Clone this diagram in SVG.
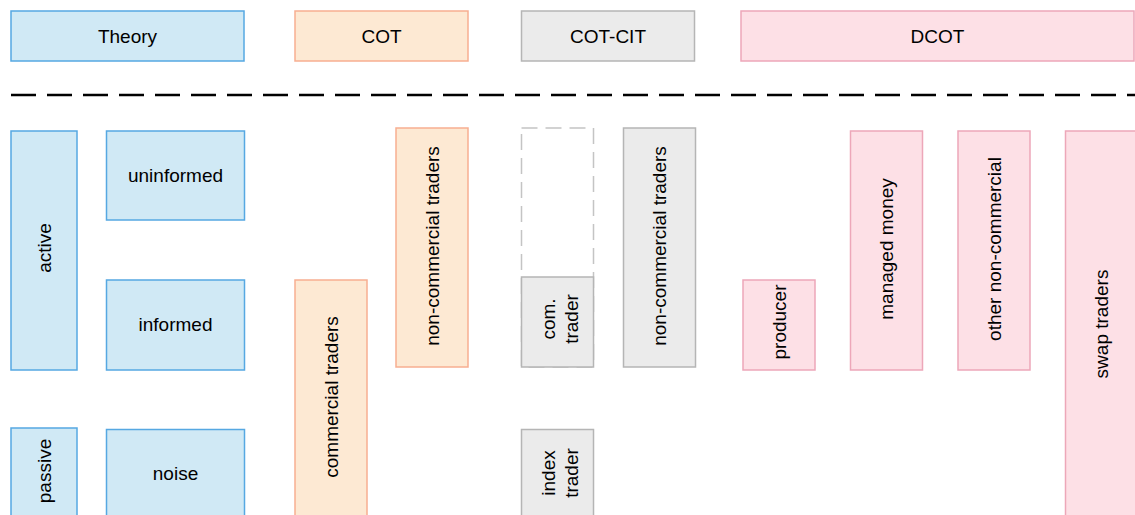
<svg xmlns="http://www.w3.org/2000/svg" width="1135" height="515" viewBox="0 0 1135 515">
<style>
text{font-family:"Liberation Sans",Arial,sans-serif;font-size:19px;fill:#000;text-anchor:middle}
.th{fill:#d0e9f5;stroke:#56a8e2;stroke-width:1.5}
.cot{fill:#fde9d3;stroke:#f7ae91;stroke-width:1.5}
.cit{fill:#ebebeb;stroke:#b5b5b5;stroke-width:1.5}
.dc{fill:#fde0e6;stroke:#eda7b9;stroke-width:1.5}
.dash{fill:none;stroke:#c4c4c4;stroke-width:1.5;stroke-dasharray:16 8}
</style>
<rect width="1135" height="515" fill="#ffffff"/>
<g id="connectors">
<line x1="11" y1="95" x2="1135" y2="95" stroke="#000" stroke-width="2.7" stroke-dasharray="25 11"/>
</g>
<g id="theory"><rect class="th" x="11" y="11" width="233" height="50"/><text x="127.5" y="42.5">Theory</text></g>
<g id="cot"><rect class="cot" x="295" y="11" width="173" height="50"/><text x="381.5" y="42.5">COT</text></g>
<g id="cotcit"><rect class="cit" x="521.5" y="11" width="173" height="50"/><text x="608" y="42.5">COT-CIT</text></g>
<g id="dcot"><rect class="dc" x="741" y="11" width="393" height="50"/><text x="937.5" y="42.5">DCOT</text></g>

<g id="active"><rect class="th" x="11" y="131" width="66" height="239"/><text transform="translate(44,248) rotate(-90)" y="6.6">active</text></g>
<g id="uninformed"><rect class="th" x="106.5" y="131" width="138" height="89"/><text x="175.5" y="181.5">uninformed</text></g>
<g id="informed"><rect class="th" x="106.5" y="280" width="138" height="90"/><text x="175.5" y="331">informed</text></g>
<g id="passive"><rect class="th" x="11" y="428" width="66" height="92"/><text transform="translate(44,471) rotate(-90)" y="6.6">passive</text></g>
<g id="noise"><rect class="th" x="106.5" y="429.5" width="138" height="92"/><text x="175.5" y="479.5">noise</text></g>

<g id="cot-commercial"><rect class="cot" x="295" y="280" width="72" height="240"/><text transform="translate(331,397) rotate(-90)" y="6.6">commercial traders</text></g>
<g id="cot-noncommercial"><rect class="cot" x="396" y="128" width="72" height="239"/><text transform="translate(432,246) rotate(-90)" y="6.6">non-commercial traders</text></g>

<g id="cit-placeholder"><rect class="dash" x="521.5" y="128" width="72" height="239"/></g>
<g id="cit-com"><rect class="cit" x="521.5" y="277" width="72" height="90"/><text transform="translate(557.5,319) rotate(-90)"><tspan x="0" y="-2.5">com.</tspan><tspan x="0" y="20.5">trader</tspan></text></g>
<g id="cit-noncommercial"><rect class="cit" x="623.5" y="128" width="72" height="239"/><text transform="translate(659.5,246) rotate(-90)" y="6.6">non-commercial traders</text></g>
<g id="cit-index"><rect class="cit" x="521.5" y="429.5" width="72" height="92"/><text transform="translate(557.5,473) rotate(-90)"><tspan x="0" y="-2.5">index</tspan><tspan x="0" y="20.5">trader</tspan></text></g>

<g id="producer"><rect class="dc" x="743" y="280" width="72" height="90"/><text transform="translate(779,322) rotate(-90)" y="6.6">producer</text></g>
<g id="managed-money"><rect class="dc" x="850.5" y="131" width="72" height="239"/><text transform="translate(886.5,249) rotate(-90)" y="6.6">managed money</text></g>
<g id="other-noncommercial"><rect class="dc" x="958" y="131" width="72" height="239"/><text transform="translate(994,249) rotate(-90)" y="6.6">other non-commercial</text></g>
<g id="swap-traders"><rect class="dc" x="1065.5" y="131" width="72" height="390"/><text transform="translate(1101.5,324) rotate(-90)" y="6.6">swap traders</text></g>
</svg>
